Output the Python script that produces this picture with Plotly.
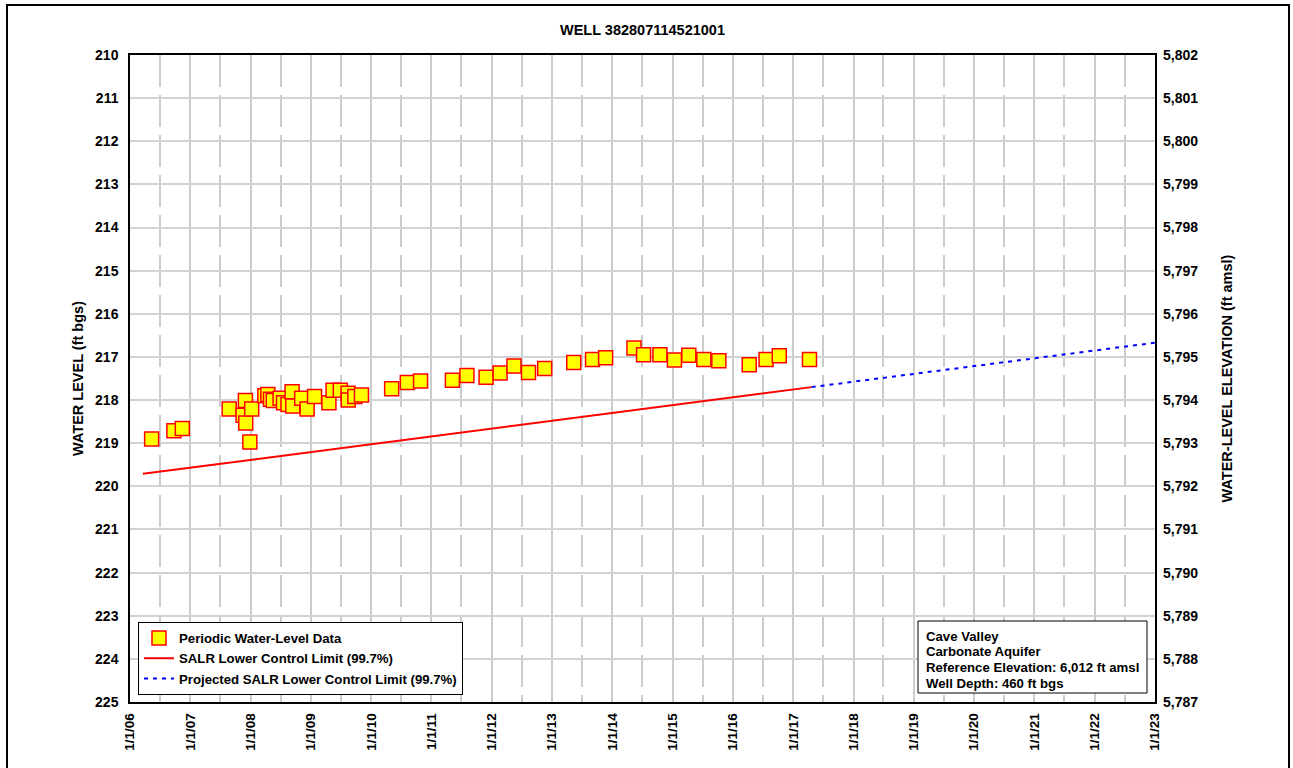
import plotly.graph_objects as go

# ---------------- data ----------------
obs_dates = [
    "2006-05-12", "2006-09-24", "2006-11-14", "2007-08-25", "2007-11-17",
    "2007-12-01", "2007-12-03", "2007-12-28", "2008-01-08", "2008-03-28",
    "2008-04-15", "2008-05-01", "2008-05-18", "2008-06-28", "2008-07-19",
    "2008-08-15", "2008-09-09", "2008-09-13", "2008-11-06", "2008-12-09",
    "2009-01-23", "2009-04-20", "2009-05-15", "2009-06-28", "2009-08-14",
    "2009-08-15", "2009-09-24", "2009-11-03",
    "2010-05-05", "2010-08-08", "2010-10-27", "2011-05-08", "2011-08-04",
    "2011-11-28", "2012-02-21", "2012-05-15", "2012-08-11", "2012-11-17",
    "2013-05-12", "2013-09-03", "2013-11-21", "2014-05-12", "2014-07-09",
    "2014-10-16", "2015-01-12", "2015-04-09", "2015-07-09", "2015-10-08",
    "2016-04-09", "2016-07-20", "2016-10-08", "2017-04-09",
]
obs_levels = [
    218.90, 218.71, 218.66, 218.21, 218.35,
    218.01, 218.53, 218.97, 218.21, 217.90,
    217.87, 217.98, 218.01, 217.96, 218.06,
    218.10, 217.81, 218.14, 217.96, 218.21,
    217.92, 218.06, 217.77, 217.77, 217.84,
    218.00, 217.92, 217.88,
    217.74, 217.59, 217.56, 217.54, 217.43,
    217.47, 217.37, 217.21, 217.36, 217.27,
    217.13, 217.06, 217.02, 216.79, 216.95,
    216.95, 217.07, 216.96, 217.06, 217.09,
    217.18, 217.06, 216.97, 217.06,
]

lcl_dates = ["2006-03-20", "2017-04-22"]
lcl_levels = [219.71, 217.70]

proj_dates = ["2017-04-22", "2023-01-01"]
proj_levels = [217.70, 216.67]

ref_elevation = 6012
year_ticks = [f"{y}-01-01" for y in range(2006, 2024)]
year_labels = [f"1/1/{y % 100:02d}" for y in range(2006, 2024)]
level_ticks = list(range(210, 226))
info_lines = ["Cave Valley", "Carbonate Aquifer",
              f"Reference Elevation: {ref_elevation:,} ft amsl", "Well Depth: 460 ft bgs"]

# ---------------- layout geometry ----------------
W, H = 1293, 768
L, R, T, B = 130, 138, 55, 66
PW, PH = W - L - R, H - T - B


def px(x):
    return (x - L) / PW


def py(y):
    return (T + PH - y) / PH


FONT = "Liberation Sans, Arial, sans-serif"

fig = go.Figure()

fig.add_trace(go.Scatter(
    x=lcl_dates, y=lcl_levels, mode="lines",
    name="SALR Lower Control Limit (99.7%)", legendrank=2,
    line=dict(color="#FF0000", width=2),
))
fig.add_trace(go.Scatter(
    x=proj_dates, y=proj_levels, mode="lines",
    name="Projected SALR Lower Control Limit (99.7%)", legendrank=3,
    line=dict(color="#0000FF", width=2, dash="4px,5px"),
))
fig.add_trace(go.Scatter(
    x=obs_dates, y=obs_levels, mode="markers",
    name="Periodic Water-Level Data", legendrank=1,
    marker=dict(symbol="square", size=14, color="#FFFF00",
                line=dict(color="#FF0000", width=1.5)),
))
# invisible trace for right axis
fig.add_trace(go.Scatter(
    x=[year_ticks[0]], y=[ref_elevation - 217], yaxis="y2",
    mode="markers", marker=dict(opacity=0), showlegend=False, hoverinfo="skip",
))

fig.update_layout(
    width=W, height=H,
    margin=dict(l=L, r=R, t=T, b=B),
    paper_bgcolor="white", plot_bgcolor="white",
    font=dict(family=FONT, size=13, color="black", weight="bold"),
    title=dict(text="WELL 382807114521001", x=0.5 * (L + (W - R)) / W, xanchor="center",
               y=1 - 30 / H, yanchor="middle",
               font=dict(family=FONT, size=14.5, color="black", weight="bold")),
    showlegend=True,
    legend=dict(
        x=px(138), xanchor="left",
        y=py(695), yanchor="bottom",
        bgcolor="white", bordercolor="black", borderwidth=1,
        font=dict(family=FONT, size=13.2, color="black", weight="bold"),
        traceorder="normal", tracegroupgap=0,
    ),
    xaxis=dict(
        type="date", range=["2006-01-01", "2023-01-01"],
        tickmode="array", tickvals=year_ticks, ticktext=year_labels,
        tickangle=-90, tickfont=dict(family=FONT, size=13.5, weight="bold"),
        ticks="", ticklabelstandoff=4,
        showgrid=True, gridcolor="#cccccc", gridwidth=1.5,
        minor=dict(dtick="M6", tick0="2006-01-01", showgrid=True,
                   gridcolor="#cccccc", gridwidth=1.5, griddash="32px,8px"),
        showline=True, linecolor="black", linewidth=1.5, mirror=True,
        zeroline=False,
    ),
    yaxis=dict(
        range=[225, 210], tickmode="array", tickvals=level_ticks,
        ticks="", ticklabelstandoff=7,
        tickfont=dict(family=FONT, size=14, weight="bold"),
        showgrid=True, gridcolor="#d3d3d3", gridwidth=2,
        showline=True, linecolor="black", linewidth=1.5, mirror=True,
        zeroline=False,
        title=dict(text="WATER LEVEL (ft bgs)", standoff=8,
                   font=dict(family=FONT, size=14.5, weight="bold")),
    ),
    yaxis2=dict(
        overlaying="y", side="right",
        range=[ref_elevation - 225, ref_elevation - 210],
        tickmode="array", tickvals=[ref_elevation - v for v in level_ticks],
        tickformat=",d", ticks="", ticklabelstandoff=7,
        tickfont=dict(family=FONT, size=14, weight="bold"),
        showgrid=False, zeroline=False, showline=False,
        title=dict(text="WATER-LEVEL ELEVATION (ft amsl)", standoff=24,
                   font=dict(family=FONT, size=14.5, weight="bold")),
    ),
)

# info box
fig.add_shape(
    type="rect", xref="paper", yref="paper",
    x0=px(918), x1=px(1147), y0=py(693), y1=py(621),
    line=dict(color="black", width=1), fillcolor="white", layer="above",
)
for i, line in enumerate(info_lines):
    fig.add_annotation(
        xref="paper", yref="paper", x=px(924), xanchor="left",
        y=py(636 + i * 15.7), yanchor="middle",
        text=line, showarrow=False, align="left",
        font=dict(family=FONT, size=13.2, color="black", weight="bold"),
    )

# outer frame around the whole chart
fig.add_shape(
    type="rect", xref="paper", yref="paper",
    x0=px(7), x1=px(1289), y0=py(780), y1=py(5),
    line=dict(color="black", width=2), fillcolor="rgba(0,0,0,0)", layer="above",
)

fig.write_html("out.html", config={"displayModeBar": False},
               post_script="document.body.style.margin='0px';")
